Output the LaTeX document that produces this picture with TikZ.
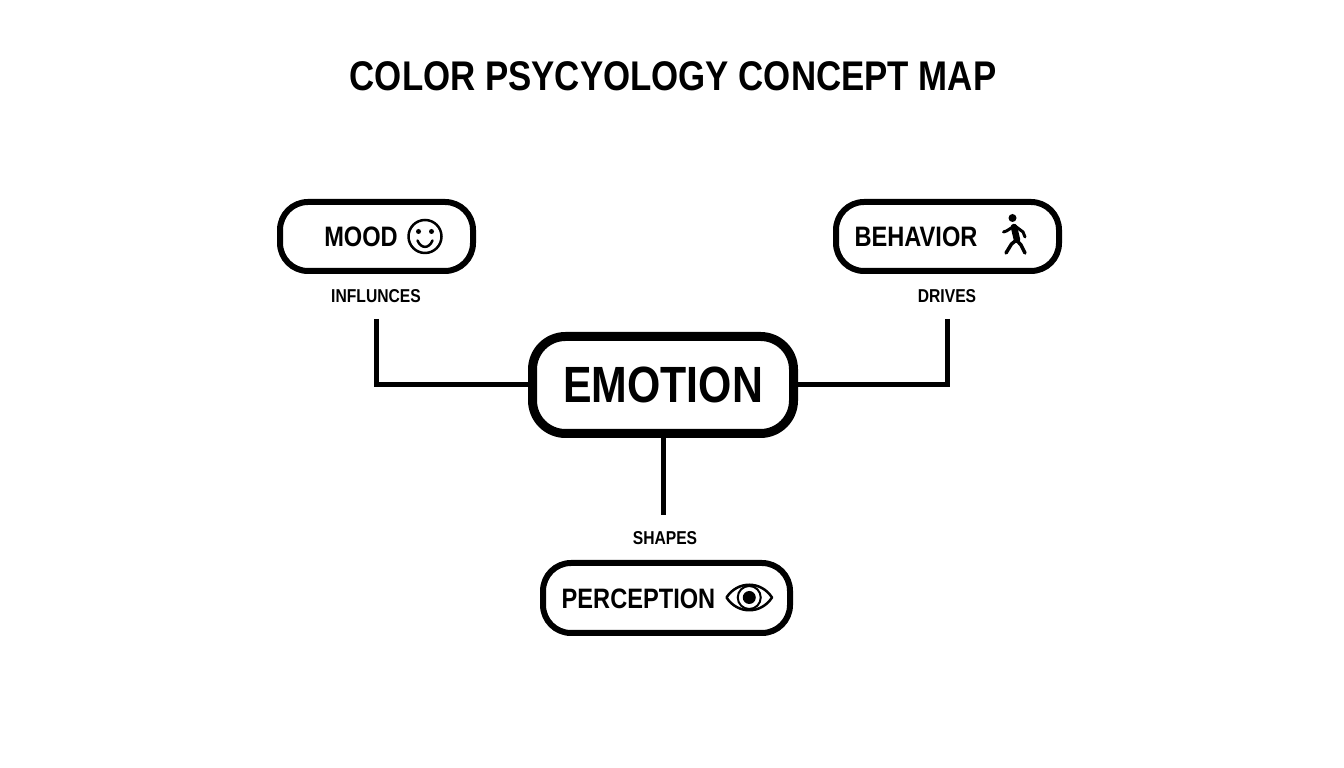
\documentclass[tikz,border=0pt]{standalone}
\usepackage{fontspec}
\setmainfont[FakeStretch=0.84]{Liberation Sans}
\tikzset{
    conceptbox/.style={draw=black, fill=white, line width=0.12cm, rounded corners=0.56cm, inner sep=0pt},
    conceptname/.style={inner sep=0pt, font=\fontsize{16}{18}\selectfont\bfseries},
    linklabel/.style={inner sep=0pt, font=\fontsize{10.6}{12}\selectfont\bfseries},
    linkline/.style={line width=0.1cm, black},
    iconline/.style={line width=0.05cm, black, line cap=round, line join=round}
}

\begin{document}
\begin{tikzpicture}
            \useasboundingbox (0,0) rectangle (26.88,15.36);
            \node[inner sep=0pt, font=\fontsize{23.6}{28}\selectfont\bfseries] (title) at (13.46,13.84) {COLOR PSYCYOLOGY CONCEPT MAP};

            % Center box
            \node[conceptbox, line width=0.18cm, rounded corners=0.66cm, minimum width=5.22cm, minimum height=1.94cm] (emotion) at (13.26,7.66) {};
            \node[inner sep=0pt, font=\fontsize{29}{32}\selectfont\bfseries] (emotiontext) at (13.26,7.66) {EMOTION};

            % Mood box
            \node[conceptbox, minimum width=3.86cm, minimum height=1.38cm] (mood) at (7.53,10.63) {};
            \node[conceptname] (moodtext) at (7.22,10.63) {MOOD};
            \node[linklabel] (influnces) at (7.52,9.44) {INFLUNCES};
            \coordinate (moodend) at (7.52,8.98);
            \draw[linkline] (moodend) |- (emotion.west);

            % Smiley
            \draw[iconline] (8.5,10.63) circle (0.33);
            \fill (8.37,10.73) circle (0.05);
            \fill (8.63,10.73) circle (0.05);
            \draw[iconline] (8.35,10.55) .. controls (8.42,10.38) and (8.58,10.38) .. (8.65,10.55);

            % Behavior box
            \node[conceptbox, minimum width=4.46cm, minimum height=1.38cm] (behavior) at (18.95,10.63) {};
            \node[conceptname] (behaviortext) at (18.32,10.63) {BEHAVIOR};
            \node[linklabel] (drives) at (18.94,9.44) {DRIVES};
            \coordinate (behaviorend) at (18.94,8.98);
            \draw[linkline] (behaviorend) |- (emotion.east);

            % Walking figure
            \fill (20.25,11.0) circle (0.08);
            \draw[iconline, line width=0.13cm] (20.28,10.82) -- (20.34,10.56);
            \draw[iconline, line width=0.06cm] (20.27,10.83) -- (20.13,10.74) -- (20.07,10.72);
            \draw[iconline, line width=0.06cm] (20.3,10.84) -- (20.46,10.72) -- (20.5,10.62);
            \draw[iconline, line width=0.07cm] (20.33,10.56) -- (20.23,10.48) -- (20.12,10.3);
            \draw[iconline, line width=0.07cm] (20.33,10.56) -- (20.42,10.46) -- (20.5,10.3);

            % Perception box
            \node[conceptbox, minimum width=4.94cm, minimum height=1.4cm] (perception) at (13.33,3.4) {};
            \node[conceptname] (perceptiontext) at (12.77,3.39) {PERCEPTION};
            \node[linklabel] (shapes) at (13.3,4.6) {SHAPES};
            \coordinate (perceptionend) at (13.26,5.06);
            \draw[linkline] (emotion.south) -- (perceptionend);

            % Eye
            \draw[iconline] (14.53,3.41) .. controls (14.75,3.75) and (15.22,3.75) .. (15.44,3.41) .. controls (15.22,3.07) and (14.75,3.07) .. (14.53,3.41) -- cycle;
            \draw[line width=0.04cm] (14.985,3.41) circle (0.23);
            \fill (14.985,3.41) circle (0.13);
\end{tikzpicture}
\end{document}
